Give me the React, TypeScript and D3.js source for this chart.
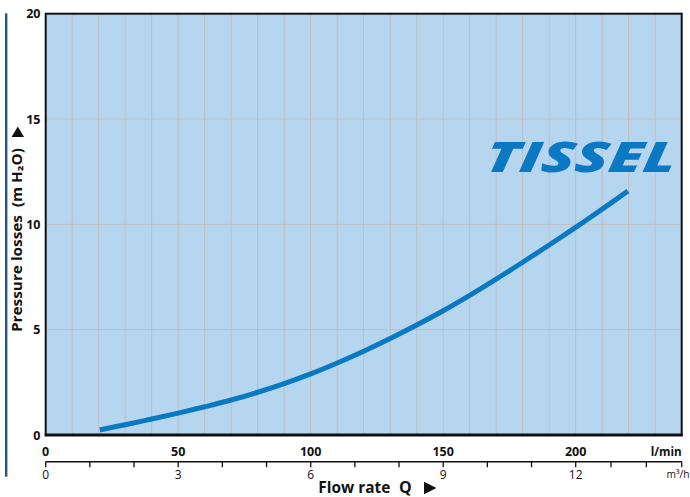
import React from "react";
import * as d3 from "d3";

// Flow rate (l/min) and pressure losses (m H2O)
const flowLmin = [20.4, 30, 40, 50, 60, 70, 80, 90, 100, 110, 120, 130, 140, 150, 160, 170, 180, 190, 200, 210, 219.7];
const pressure = [0.24, 0.49, 0.76, 1.04, 1.34, 1.66, 2.03, 2.44, 2.9, 3.42, 3.98, 4.58, 5.22, 5.9, 6.63, 7.4, 8.2, 9.02, 9.86, 10.72, 11.58];

const yTicks = [0, 5, 10, 15, 20];
const yGrid = [5, 10, 15];
const xGrid = d3.range(10, 240, 10);
const lminLabels = [0, 50, 100, 150, 200];
const m3hTicks = [0, 1, 2, 3, 4, 5, 6, 7, 8, 9, 10, 11, 12, 12.8, 13.6, 14.4];
const m3hLabels = [0, 3, 6, 9, 12];

const W = 690;
const H = 497;
const FONT = "'Open Sans', 'DejaVu Sans', sans-serif";

export default function App() {
  const x = d3.scaleLinear().domain([0, 240]).range([45.7, 681.7]);
  const y = d3.scaleLinear().domain([0, 20]).range([435, 13.7]);
  // m3/h axis: 1 m3/h = 16.667 l/min
  const xm = d3.scaleLinear().domain([0, 14.4]).range([45.7, 681.7]);

  const pts: [number, number][] = flowLmin.map((q, i) => [q, pressure[i]]);
  const line = d3
    .line<[number, number]>()
    .x((d) => x(d[0]))
    .y((d) => y(d[1]))
    .curve(d3.curveCatmullRom.alpha(0.5));

  const axisY = 461.7;

  return (
    <svg
      width={W}
      height={H}
      viewBox={`0 0 ${W} ${H}`}
      style={{ position: "absolute", left: 0, top: 0, background: "#fff" }}
    >
      {/* left decorative bar */}
      <rect x={5} y={13.3} width={2.4} height={463.4} fill="#1e5593" />

      {/* plot background */}
      <rect x={x(0)} y={y(20)} width={x(240) - x(0)} height={y(0) - y(20)} fill="#b6d6f0" />

      {/* grid */}
      {xGrid.map((g) => (
        <line key={"gx" + g} x1={x(g)} x2={x(g)} y1={y(20)} y2={y(0)} stroke="#bdbfc2" strokeWidth={1} />
      ))}
      {yGrid.map((g) => (
        <line key={"gy" + g} x1={x(0)} x2={x(240)} y1={y(g)} y2={y(g)} stroke="#bdbfc2" strokeWidth={1} />
      ))}

      {/* TISSEL logo */}
      <g transform="translate(480,171.5) skewX(-8)">
        <text
          x={4}
          y={0}
          fontFamily={FONT}
          fontWeight={800}
          fontStyle="italic"
          fontSize={42}
          fill="#0a78c2"
          textLength={190}
          lengthAdjust="spacingAndGlyphs"
        >
          TISSEL
        </text>
      </g>

      {/* curve */}
      <path d={line(pts) || ""} fill="none" stroke="#0a79c2" strokeWidth={5} strokeLinecap="butt" />

      {/* border */}
      <rect
        x={x(0)}
        y={y(20)}
        width={x(240) - x(0)}
        height={y(0) - y(20)}
        fill="none"
        stroke="#111"
        strokeWidth={2}
      />
      <line x1={x(0) - 1} x2={x(240) + 1} y1={y(0)} y2={y(0)} stroke="#111" strokeWidth={3.2} />

      {/* y tick labels */}
      {yTicks.map((t) => (
        <text
          key={"yt" + t}
          x={40.5}
          y={y(t) + 4.5}
          textAnchor="end"
          fontFamily={FONT}
          fontWeight={700}
          fontSize={12.5}
          fill="#111"
        >
          {t}
        </text>
      ))}

      {/* y axis title */}
      <text
        transform={`translate(22,240) rotate(-90)`}
        textAnchor="middle"
        fontFamily={FONT}
        fontWeight={700}
        fontSize={13.5}
        fill="#111"
        textLength={184}
        lengthAdjust="spacingAndGlyphs"
      >
        {"Pressure losses\u00a0\u00a0(m H₂O)"}
      </text>
      <path d="M17.8,126.5 L24,137 L11.6,137 Z" fill="#111" />

      {/* l/min labels */}
      {lminLabels.map((t) => (
        <text
          key={"xl" + t}
          x={x(t)}
          y={455.5}
          textAnchor="middle"
          fontFamily={FONT}
          fontWeight={700}
          fontSize={12.5}
          fill="#111"
        >
          {t}
        </text>
      ))}
      <text
        x={681.7}
        y={455.5}
        textAnchor="end"
        fontFamily={FONT}
        fontWeight={700}
        fontSize={12.5}
        fill="#111"
        textLength={31}
        lengthAdjust="spacingAndGlyphs"
      >
        l/min
      </text>

      {/* m3/h axis */}
      <line x1={xm(0)} x2={xm(14.4)} y1={axisY} y2={axisY} stroke="#111" strokeWidth={1.5} />
      {m3hTicks.map((t) => (
        <line key={"mt" + t} x1={xm(t)} x2={xm(t)} y1={axisY} y2={axisY + 5.5} stroke="#111" strokeWidth={1.3} />
      ))}
      {m3hLabels.map((t) => (
        <text
          key={"ml" + t}
          x={xm(t)}
          y={478.5}
          textAnchor="middle"
          fontFamily={FONT}
          fontWeight={400}
          fontSize={12}
          fill="#111"
        >
          {t}
        </text>
      ))}
      <text x={666.5} y={477.5} fontFamily={FONT} fontSize={11} fill="#111" textLength={23} lengthAdjust="spacingAndGlyphs">
        m³/h
      </text>

      {/* x axis title */}
      <text
        x={318.3}
        y={492.8}
        fontFamily={FONT}
        fontWeight={700}
        fontSize={15.5}
        fill="#111"
        textLength={72}
        lengthAdjust="spacingAndGlyphs"
      >
        Flow rate
      </text>
      <text
        x={399}
        y={492.8}
        fontFamily={FONT}
        fontWeight={700}
        fontSize={15.5}
        fill="#111"
        textLength={12.7}
        lengthAdjust="spacingAndGlyphs"
      >
        Q
      </text>
      <path d="M424,481.7 L436.5,488 L424,494.3 Z" fill="#111" />
    </svg>
  );
}
